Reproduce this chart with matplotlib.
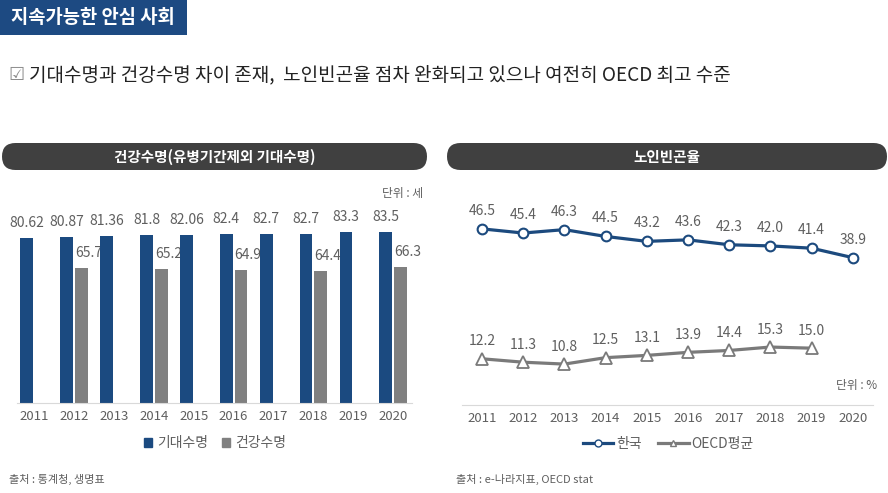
import numpy as np
import matplotlib
matplotlib.use("Agg")
import matplotlib.pyplot as plt
from matplotlib.patches import FancyBboxPatch, Rectangle
from matplotlib.lines import Line2D

plt.rcParams['font.family'] = ['Noto Sans CJK KR', 'DejaVu Sans']

# ---------------- data ----------------
years = ['2011', '2012', '2013', '2014', '2015', '2016', '2017', '2018', '2019', '2020']
life_expectancy = [80.62, 80.87, 81.36, 81.8, 82.06, 82.4, 82.7, 82.7, 83.3, 83.5]
healthy_life = [np.nan, 65.7, np.nan, 65.2, np.nan, 64.9, np.nan, 64.4, np.nan, 66.3]
korea_poverty = [46.5, 45.4, 46.3, 44.5, 43.2, 43.6, 42.3, 42.0, 41.4, 38.9]
oecd_poverty = [12.2, 11.3, 10.8, 12.5, 13.1, 13.9, 14.4, 15.3, 15.0, np.nan]

BLUE = '#1b4a80'
GRAY_BAR = '#808080'
KOREA = '#1c4a7e'
OECD = '#7a7a7a'
TXT = '#5f5f5f'

W, H = 888, 493
fig = plt.figure(figsize=(W / 100, H / 100), dpi=100)
fig.patch.set_facecolor('white')


def px_rect(x0, y0, x1, y1):
    return [x0 / W, 1 - y1 / H, (x1 - x0) / W, (y1 - y0) / H]


# overlay axes in pixel coordinates
ov = fig.add_axes([0, 0, 1, 1])
ov.set_xlim(0, W)
ov.set_ylim(H, 0)
ov.axis('off')

# title box
ov.add_patch(Rectangle((0, 0), 187, 35, facecolor='#1d4a82', edgecolor='none'))
ov.text(93, 17.5, '지속가능한 안심 사회', color='white', fontsize=13.5,
        fontweight='bold', ha='center', va='center')

# subtitle
ov.text(8, 75, '☑', color='#8a8a8a', fontsize=13, ha='left', va='center',
        family=['DejaVu Sans'])
ov.text(29, 75, '기대수명과 건강수명 차이 존재,  노인빈곤율 점차 완화되고 있으나 여전히 OECD 최고 수준',
        color='#222222', fontsize=13.7, ha='left', va='center')

# header pills
for (x0, x1, label, cx) in [(2, 427, '건강수명(유병기간제외 기대수명)', 214.5),
                             (447, 887, '노인빈곤율', 667)]:
    ov.add_patch(FancyBboxPatch((x0, 143), x1 - x0, 27,
                                boxstyle='round,pad=0,rounding_size=13.5',
                                facecolor='#404040', edgecolor='none'))
    ov.text(cx, 157, label, color='white', fontsize=10.5, fontweight='bold',
            ha='center', va='center')

# units & sources
ov.text(423, 193, '단위 : 세', color=TXT, fontsize=8.5, ha='right', va='center')
ov.text(877, 385, '단위 : %', color=TXT, fontsize=8.5, ha='right', va='center')
ov.text(9, 479, '출처 : 통계청, 생명표', color=TXT, fontsize=8, ha='left', va='center')
ov.text(456, 479, '출처 : e-나라지표, OECD stat', color=TXT, fontsize=8, ha='left', va='center')

# ---------------- left: bar chart ----------------
ax1 = fig.add_axes(px_rect(17, 180, 412, 403))
ax1.set_facecolor('none')
x = np.arange(len(years))
bw = 0.32
off = 0.185
ax1.bar(x - off, life_expectancy, bw, color=BLUE, zorder=2, label='기대수명')
ax1.bar(x + off, healthy_life, bw, color=GRAY_BAR, zorder=2, label='건강수명')
ax1.set_xlim(-0.43, 9.47)
ax1.set_ylim(0, 108.9)
for xi, v in zip(x, life_expectancy):
    ax1.annotate(str(v), (xi - off, v), xytext=(0, 10.8), textcoords='offset points',
                 ha='center', va='center', color=TXT, fontsize=10, zorder=1)
for xi, v in zip(x, healthy_life):
    if not np.isnan(v):
        ax1.annotate(str(v), (xi + off - bw / 2, v), xytext=(0, 10.8),
                     textcoords='offset points', ha='left', va='center',
                     color=TXT, fontsize=10, zorder=1)
ax1.set_xticks(x)
ax1.set_xticklabels(years)
ax1.tick_params(axis='x', length=0, pad=5, labelcolor=TXT, labelsize=9.5)
ax1.set_yticks([])
for s in ['top', 'left', 'right']:
    ax1.spines[s].set_visible(False)
ax1.spines['bottom'].set_color('#d9d9d9')

h1 = [Rectangle((0, 0), 1, 1, color=BLUE), Rectangle((0, 0), 1, 1, color=GRAY_BAR)]
fig.legend(h1, ['기대수명', '건강수명'], loc='center',
           bbox_to_anchor=(215 / W, 1 - 443 / H), ncol=2, frameon=False,
           handlelength=0.6, handleheight=0.6, handletextpad=0.35,
           columnspacing=1.0, fontsize=10, labelcolor=TXT)

# ---------------- right: line chart ----------------
ax2 = fig.add_axes(px_rect(462, 180, 873, 405))
ax2.set_facecolor('none')
ax2.plot(x, korea_poverty, color=KOREA, lw=2.3, marker='o', ms=7,
         mfc='white', mec=KOREA, mew=1.5, zorder=3)
ax2.plot(x, oecd_poverty, color=OECD, lw=2.3, marker='^', ms=8,
         mfc='white', mec=OECD, mew=1.3, zorder=3)
ax2.set_xlim(-0.485, 9.49)
ax2.set_ylim(0, 59.4)
for xi, v in zip(x, korea_poverty):
    ax2.annotate(f'{v:.1f}', (xi, v), xytext=(0, 13), textcoords='offset points',
                 ha='center', va='center', color=TXT, fontsize=10)
for xi, v in zip(x, oecd_poverty):
    if not np.isnan(v):
        ax2.annotate(f'{v:.1f}', (xi, v), xytext=(0, 12.5), textcoords='offset points',
                     ha='center', va='center', color=TXT, fontsize=10)
ax2.set_xticks(x)
ax2.set_xticklabels(years)
ax2.tick_params(axis='x', length=0, pad=5, labelcolor=TXT, labelsize=9.5)
ax2.set_yticks([])
for s in ['top', 'left', 'right']:
    ax2.spines[s].set_visible(False)
ax2.spines['bottom'].set_color('#d9d9d9')

h2 = [Line2D([], [], color=KOREA, lw=2.3, marker='o', ms=5, mfc='white', mec=KOREA),
      Line2D([], [], color=OECD, lw=2.3, marker='^', ms=5, mfc='white', mec=OECD)]
fig.legend(h2, ['한국', 'OECD평균'], loc='center',
           bbox_to_anchor=(668 / W, 1 - 444 / H), ncol=2, frameon=False,
           handlelength=2.2, handletextpad=0.2, columnspacing=1.2,
           fontsize=10, labelcolor=TXT)

fig.savefig('out.png', dpi=100)
